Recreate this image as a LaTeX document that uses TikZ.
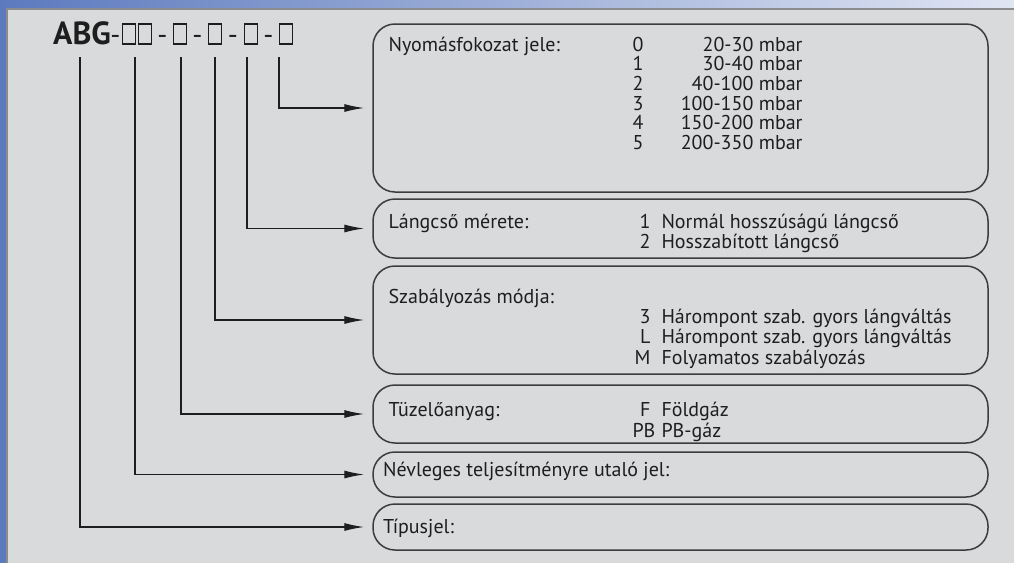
\documentclass[tikz,border=0pt]{standalone}
\usepackage{fontspec}
\setmainfont{PT Sans}
\usepackage{array}
\usepackage{xcolor}
\usetikzlibrary{arrows.meta}
\definecolor{panel}{RGB}{217,218,219}
\definecolor{frameline}{RGB}{140,140,140}
\definecolor{deepblue}{RGB}{92,122,190}
\definecolor{paleblue}{RGB}{224,229,243}
\definecolor{boxline}{RGB}{60,60,60}
\definecolor{ink}{RGB}{30,30,30}
\newcolumntype{R}[1]{>{\raggedleft\arraybackslash}p{#1}}

\begin{document}
\begin{tikzpicture}[x=1pt,y=-1pt,font=\fontsize{20}{20}\selectfont,text=ink,
    optbox/.style={draw=boxline,line width=1.5pt,rounded corners=22pt,minimum width=615pt,inner sep=0pt},
    slotbox/.style={draw=ink,line width=1.3pt,minimum width=13pt,minimum height=20pt,inner sep=0pt},
    dashtxt/.style={anchor=base,inner sep=0pt,font=\fontsize{28}{28}\selectfont},
    feed/.style={draw=ink,line width=1.3pt,-{Latex[length=20pt,width=8pt]},shorten >=8pt}]
 	\useasboundingbox (0,0) rectangle (1014,563);
 	\fill[deepblue] (0,0) rectangle (7,563);
 	\shade[left color=deepblue,right color=paleblue] (0,0) rectangle (1014,9);
 	\fill[frameline] (6,8) rectangle (1014,563);
 	\fill[panel] (8,10) rectangle (1014,563);

 	\node[anchor=base west,inner sep=0pt,font=\fontsize{32}{32}\selectfont\bfseries] (abg) at (53,44) {ABG};
 	\node[dashtxt] (k1) at (115.5,44) {-};
 	\node[slotbox] (hely1) at (129,34) {};
 	\node[slotbox] (hely2) at (145,34) {};
 	\node[dashtxt] (k2) at (162.5,44) {-};
 	\node[slotbox] (hely3) at (180,34) {};
 	\node[dashtxt] (k3) at (197.5,44) {-};
 	\node[slotbox] (hely4) at (215,34) {};
 	\node[dashtxt] (k4) at (233,44) {-};
 	\node[slotbox] (hely5) at (251,34) {};
 	\node[dashtxt] (k5) at (268.5,44) {-};
 	\node[slotbox] (hely6) at (286,34) {};

 	\node[optbox,minimum height=168pt] (nyomas) at (680.5,108) {};
 	\node[optbox,minimum height=59pt] (lang) at (680.5,228.5) {};
 	\node[optbox,minimum height=108pt] (szab) at (680.5,320) {};
 	\node[optbox,minimum height=58pt] (tuz) at (680.5,414) {};
 	\node[optbox,minimum height=45pt] (nevl) at (680.5,474.5) {};
 	\node[optbox,minimum height=46pt] (tipus) at (680.5,527) {};

 	\node[anchor=base west,inner sep=0pt] (nyomastxt) at (383,51)
 		{{
 		\begin{tabular}[t]{@{}p{244pt}@{}p{30pt}@{}R{140pt}@{}}
 	Nyomásfokozat jele: & 0 & 20-30 mbar\\[-0.5pt]
 	 & 1 & 30-40 mbar\\[-0.5pt]
 	 & 2 & 40-100 mbar\\[-0.5pt]
 	 & 3 & 100-150 mbar\\[-0.5pt]
 	 & 4 & 150-200 mbar\\[-0.5pt]
 	 & 5 & 200-350 mbar
 		\end{tabular}
 		}};
 	\node[anchor=base west,inner sep=0pt] (langtxt) at (383,228)
 		{{
 		\begin{tabular}[t]{@{}p{244pt}@{}R{18pt}@{\hspace{11pt}}l@{}}
 	Lángcső mérete: & 1 & Normál hosszúságú lángcső\\
 	 & 2 & Hosszabított lángcső
 		\end{tabular}
 		}};
 	\node[anchor=base west,inner sep=0pt] (szabtxt) at (383,303)
 		{{
 		\begin{tabular}[t]{@{}p{244pt}@{}R{18pt}@{\hspace{11pt}}l@{}}
 	Szabályozás módja: & & \\
 	 & 3 & Hárompont szab. gyors lángváltás\\
 	 & L & Hárompont szab. gyors lángváltás\\
 	 & M & Folyamatos szabályozás
 		\end{tabular}
 		}};
 	\node[anchor=base west,inner sep=0pt] (tuztxt) at (383,416)
 		{{
 		\begin{tabular}[t]{@{}p{244pt}@{}R{18pt}@{\hspace{11pt}}l@{}}
 	Tüzelőanyag: & F & Földgáz\\[1pt]
 	 & PB & PB-gáz
 		\end{tabular}
 		}};
 	\node[anchor=base west,inner sep=0pt] (nevltxt) at (383,476) {Névleges teljesítményre utaló jel:};
 	\node[anchor=base west,inner sep=0pt] (tipustxt) at (383,533) {Típusjel:};

 	\coordinate (jel1) at (80,57);
 	\coordinate (jel2) at (135,57);
 	\coordinate (jel3) at (181,57);
 	\coordinate (jel4) at (215,57);
 	\coordinate (jel5) at (247,57);
 	\coordinate (jel6) at (279,57);

 	\draw[feed] (jel6) |- (nyomas.west);
 	\draw[feed] (jel5) |- (lang.west);
 	\draw[feed] (jel4) |- (szab.west);
 	\draw[feed] (jel3) |- (tuz.west);
 	\draw[feed] (jel2) |- (nevl.west);
 	\draw[feed] (jel1) |- (tipus.west);
\end{tikzpicture}
\end{document}
